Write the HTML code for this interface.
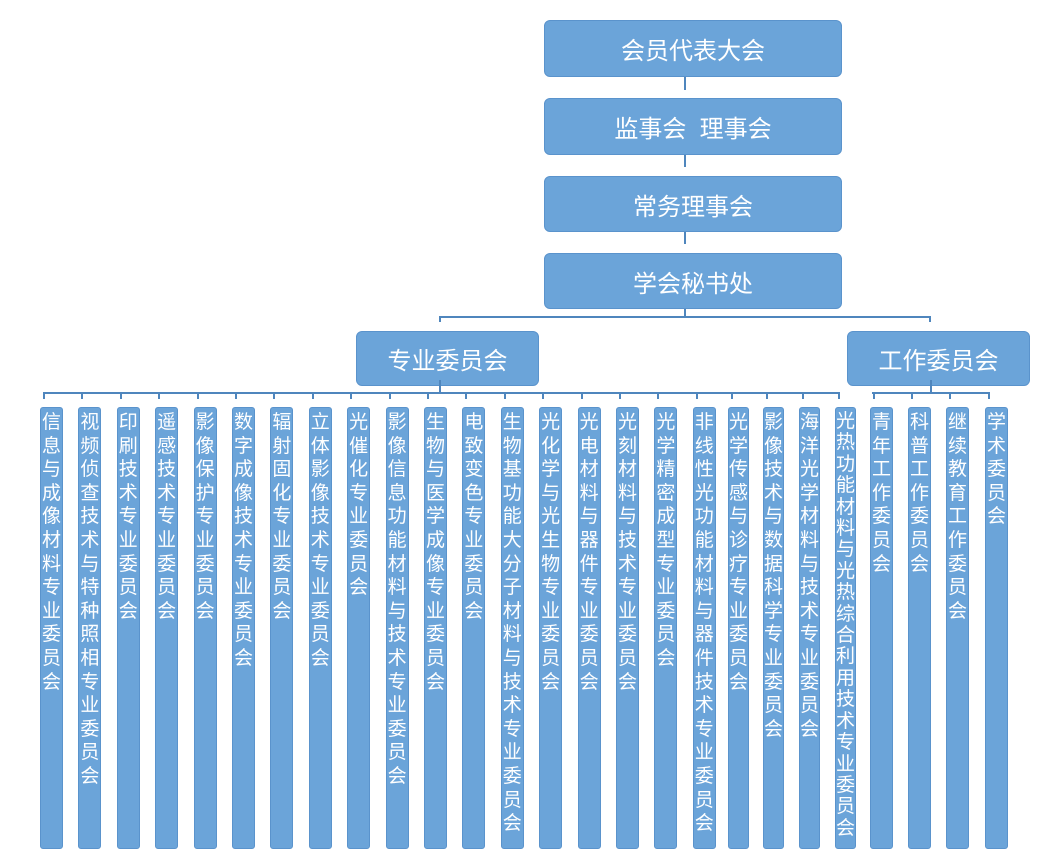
<!DOCTYPE html>
<html><head><meta charset="utf-8"><style>
body{margin:0;width:1048px;height:855px;background:#fff;position:relative;overflow:hidden;font-family:"Liberation Sans","Noto Sans CJK SC",sans-serif;}
.b{position:absolute;background:#6ba4d9;border:1px solid #5a93cc;border-radius:6px;color:#fff;box-sizing:border-box;display:flex;align-items:center;justify-content:center;font-size:24px;}
.v{position:absolute;top:407px;height:442px;background:#6ba4d9;border:1px solid #5a93cc;border-radius:3px;color:#fff;box-sizing:border-box;font-size:19px;line-height:23.6px;text-align:center;padding-top:3px;word-break:break-all;}
.l{position:absolute;background:#4f86bd;}
</style></head><body>
<div class="b" style="left:544px;top:20px;width:298px;height:57px">会员代表大会</div>
<div class="b" style="left:544px;top:98px;width:298px;height:57px">监事会&nbsp;&nbsp;理事会</div>
<div class="b" style="left:544px;top:176px;width:298px;height:56px">常务理事会</div>
<div class="b" style="left:544px;top:253px;width:298px;height:56px">学会秘书处</div>
<div class="l" style="left:684px;top:77px;width:2px;height:13px"></div>
<div class="l" style="left:684px;top:155px;width:2px;height:12px"></div>
<div class="l" style="left:684px;top:232px;width:2px;height:12px"></div>
<div class="l" style="left:684px;top:309px;width:2px;height:9px"></div>
<div class="l" style="left:439px;top:316px;width:492px;height:2px"></div>
<div class="l" style="left:439px;top:316px;width:2px;height:6px"></div>
<div class="l" style="left:929px;top:316px;width:2px;height:6px"></div>
<div class="b" style="left:356px;top:331px;width:183px;height:55px">专业委员会</div>
<div class="b" style="left:847px;top:331px;width:183px;height:55px">工作委员会</div>
<div class="l" style="left:439px;top:380px;width:2px;height:13px"></div>
<div class="l" style="left:930px;top:380px;width:2px;height:13px"></div>
<div class="l" style="left:43px;top:392px;width:795px;height:2px"></div>
<div class="l" style="left:872px;top:392px;width:117px;height:2px"></div>
<div id="c"></div>
<script>
var t=["信息与成像材料专业委员会","视频侦查技术与特种照相专业委员会","印刷技术专业委员会","遥感技术专业委员会","影像保护专业委员会","数字成像技术专业委员会","辐射固化专业委员会","立体影像技术专业委员会","光催化专业委员会","影像信息功能材料与技术专业委员会","生物与医学成像专业委员会","电致变色专业委员会","生物基功能大分子材料与技术专业委员会","光化学与光生物专业委员会","光电材料与器件专业委员会","光刻材料与技术专业委员会","光学精密成型专业委员会","非线性光功能材料与器件技术专业委员会","光学传感与诊疗专业委员会","影像技术与数据科学专业委员会","海洋光学材料与技术专业委员会","光热功能材料与光热综合利用技术专业委员会","青年工作委员会","科普工作委员会","继续教育工作委员会","学术委员会"];
var xs=[],ws=[];
for(var i=0;i<18;i++){xs.push(40+i*38.4);ws.push(23);}
[728,763,799,835].forEach(function(x){xs.push(x);ws.push(21);});
[870,908,946,985].forEach(function(x){xs.push(x);ws.push(23);});
var h="";
for(var i=0;i<t.length;i++){
var lh=t[i].length>19?'line-height:21.4px;':'';
h+='<div class="v" style="left:'+xs[i]+'px;width:'+ws[i]+'px;'+lh+'">'+t[i].split("").join("<br>")+'</div>';
h+='<div class="l" style="left:'+(xs[i]+3)+'px;top:392px;width:2px;height:7px"></div>';
}
document.getElementById("c").innerHTML=h;
</script>
</body></html>
